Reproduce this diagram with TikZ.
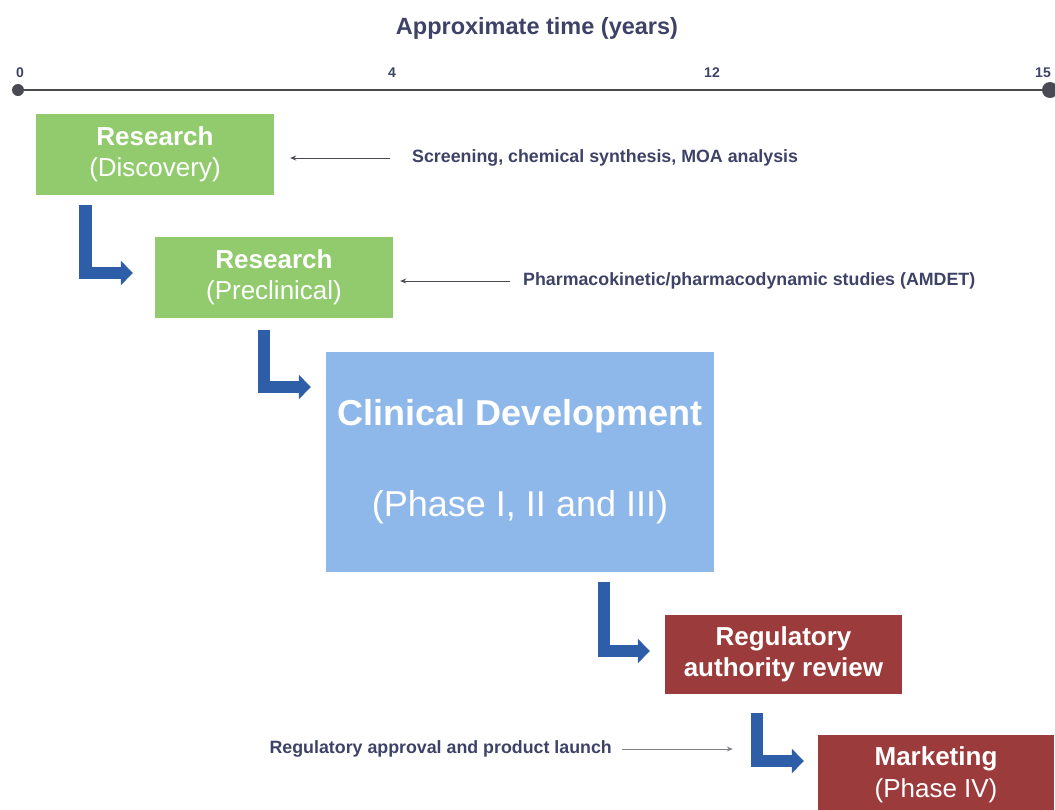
\documentclass[tikz,border=0pt]{standalone}
\usepackage{fontspec}
\setmainfont{Liberation Sans}
\usetikzlibrary{arrows.meta,calc}
\definecolor{ink}{HTML}{3D4266}
\definecolor{leaf}{HTML}{92CB6E}
\definecolor{sky}{HTML}{8EB7EA}
\definecolor{brick}{HTML}{9C3B3B}
\definecolor{flow}{HTML}{2F5EA8}
\definecolor{axis}{HTML}{4A4A52}

\begin{document}
\begin{tikzpicture}[x=1pt,y=-1pt,
  stage/.style={inner sep=0pt, text=white, align=center,
    font=\fontsize{26}{31.5}\selectfont},
  note/.style={inner sep=0pt, text=ink, font=\fontsize{17.8}{20}\selectfont\bfseries},
  tick/.style={inner sep=0pt, text=ink, font=\fontsize{14}{16}\selectfont\bfseries},
  pointer/.style={draw=axis, line width=1pt, -{Stealth[length=6pt,width=5pt]}},
  lbend/.style={draw=flow, line width=12.5pt, line join=miter,
    -{Triangle[length=12pt,width=24pt]}}]
\useasboundingbox (0,0) rectangle (1055,809);
\clip (0,0) rectangle (1055,809);

% time axis
\node[inner sep=0pt, text=ink, font=\fontsize{23.5}{28}\selectfont\bfseries] (title) at (537,28) {Approximate time (years)};
\coordinate (t0) at (18,90);
\coordinate (t15) at (1050,90);
\draw[axis, line width=1.5pt] (t0) -- (t15);
\fill[axis] (t0) circle (6);
\fill[axis] (t15) circle (8);
\node[tick] (y0) at (20,73) {0};
\node[tick] (y4) at (392,73) {4};
\node[tick] (y12) at (712,73) {12};
\node[tick] (y15) at (1043,73) {15};

% stages
\node[stage, fill=leaf, minimum width=238, minimum height=81] (disc) at (155,154.5)
  {\textbf{Research}\\(Discovery)};
\node[stage, fill=leaf, minimum width=238, minimum height=81] (prec) at (274,277.5)
  {\textbf{Research}\\(Preclinical)};
\node[stage, fill=sky, minimum width=388, minimum height=220,
  font=\fontsize{36}{91}\selectfont] (clin) at (520,462)
  {\textbf{Clinical Development}\\(Phase I, II and III)};
\node[stage, fill=brick, minimum width=237, minimum height=79] (rev) at (783.5,654.5)
  {\textbf{Regulatory}\\\textbf{authority review}};
\node[stage, fill=brick, minimum width=236, minimum height=80] (mkt) at (936,775)
  {\textbf{Marketing}\\(Phase IV)};

% annotations
\node[note, anchor=west] (n1) at (412,158) {Screening, chemical synthesis, MOA analysis};
\node[note, anchor=west] (n2) at (523,281) {Pharmacokinetic/pharmacodynamic studies (AMDET)};
\node[note, anchor=east] (n3) at (612,749) {Regulatory approval and product launch};

% flow between stages
\coordinate (a1) at ($(disc.south west)+(49.5,10)$);
\coordinate (b1) at ($(prec.west)+(-22,-4.5)$);
\coordinate (a2) at ($(prec.south west)+(109,12)$);
\coordinate (b2) at ($(clin.west)+(-15,-75)$);
\coordinate (a3) at ($(clin.south east)+(-110,10)$);
\coordinate (b3) at ($(rev.west)+(-15,-3.5)$);
\coordinate (a4) at ($(rev.south west)+(92,19)$);
\coordinate (b4) at ($(mkt.west)+(-14,-14)$);
\draw[lbend] (a1) |- (b1);
\draw[lbend] (a2) |- (b2);
\draw[lbend] (a3) |- (b3);
\draw[lbend] (a4) |- (b4);

% annotation pointers, level with their labels
\draw[pointer] ([xshift=-22]n1.west) -- ([xshift=16]disc.east |- n1.west);
\draw[pointer] ([xshift=-13]n2.west) -- ([xshift=7]prec.east |- n2.west);
\coordinate (launch) at ($(a4)+(-24,35)$);
\draw[pointer, draw=axis!70] ([xshift=10]n3.east) -- (launch |- n3.east);
\end{tikzpicture}
\end{document}
